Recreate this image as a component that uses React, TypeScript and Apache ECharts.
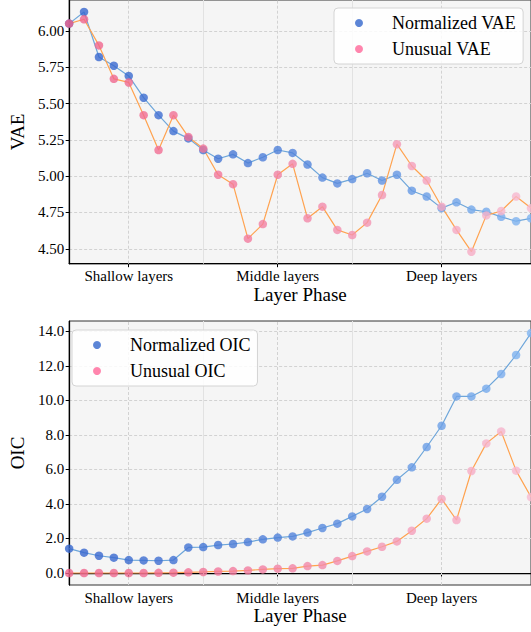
import React, { useEffect, useRef } from "react";
import * as echarts from "echarts";

// ---- data ----
const layers = ["0","1","2","3","4","5","6","7","8","9","10","11","12","13","14","15","16","17","18","19","20","21","22","23","24","25","26","27","28","29","30","31"];
const phaseTickIndex = [4, 14, 25];
const phaseLabels = ["Shallow layers", "Middle layers", "Deep layers"];
const minorGridIndex = [9, 19];

const vaeTicks = [4.5, 4.75, 5.0, 5.25, 5.5, 5.75, 6.0];
const oicTicks = [0, 2, 4, 6, 8, 10, 12, 14];

const vaeNormalized = [6.05, 6.13, 5.82, 5.76, 5.69, 5.54, 5.42, 5.31, 5.26, 5.18, 5.12, 5.15, 5.09, 5.13, 5.18, 5.16, 5.08, 4.99, 4.95, 4.98, 5.02, 4.97, 5.01, 4.90, 4.86, 4.78, 4.82, 4.77, 4.755, 4.72, 4.69, 4.71];
const vaeUnusual = [6.05, 6.08, 5.90, 5.67, 5.645, 5.42, 5.18, 5.42, 5.27, 5.19, 5.01, 4.945, 4.57, 4.67, 5.01, 5.085, 4.71, 4.79, 4.63, 4.595, 4.68, 4.87, 5.22, 5.07, 4.97, 4.79, 4.63, 4.48, 4.73, 4.76, 4.86, 4.78];

const oicNormalized = [1.41, 1.18, 1.0, 0.89, 0.75, 0.73, 0.71, 0.75, 1.48, 1.50, 1.62, 1.68, 1.79, 1.95, 2.05, 2.12, 2.34, 2.61, 2.86, 3.28, 3.71, 4.42, 5.40, 6.12, 7.30, 8.53, 10.23, 10.23, 10.68, 11.53, 12.63, 13.9];
const oicUnusual = [0, 0, 0, 0, 0, 0, 0.01, 0.02, 0.04, 0.06, 0.09, 0.11, 0.15, 0.21, 0.25, 0.27, 0.40, 0.46, 0.70, 0.98, 1.25, 1.52, 1.83, 2.45, 3.15, 4.29, 3.07, 5.91, 7.51, 8.20, 5.93, 4.4];

// ---- style ----
const FONT = "'Liberation Serif', 'Times New Roman', serif";
const BLUE_START = [54, 102, 206];
const BLUE_END = [128, 180, 240];
const PINK_START = [240, 100, 140];
const PINK_END = [247, 188, 210];

function mix(a: number[], b: number[], t: number) {
  const c = a.map((v, k) => Math.round(v + (b[k] - v) * t));
  return `rgb(${c[0]},${c[1]},${c[2]})`;
}

function pointData(vals: number[], start: number[], end: number[]) {
  return vals.map((v, i) => ({
    value: [i, v],
    itemStyle: { color: mix(start, end, Math.pow(i / (vals.length - 1), 1.35)) },
  }));
}

function buildOption() {
  const gridCommon = {
    left: 62,
    right: -2.5,
    show: true,
    backgroundColor: "#f5f5f5",
    borderColor: "#333",
    borderWidth: 1,
    containLabel: false,
  };
  const grids = [
    { ...gridCommon, top: -1, bottom: 368.3 },
    { ...gridCommon, top: 321, bottom: 47 },
  ];

  const dashed = { color: "#d2d2d2", width: 1, type: [3, 2] as any };

  const mainX = (g: number) => ({
    type: "category",
    gridIndex: g,
    data: layers,
    boundaryGap: false,
    position: "bottom",
    name: "Layer Phase",
    nameLocation: "middle",
    nameGap: 19,
    nameTextStyle: { fontFamily: FONT, fontSize: 19, color: "#000" },
    axisLine: { show: true, lineStyle: { color: "#000", width: 1.25 } },
    axisTick: {
      show: true,
      interval: (i: number) => phaseTickIndex.includes(i),
      length: 3.5,
      lineStyle: { color: "#000", width: 1 },
    },
    axisLabel: {
      interval: (i: number) => phaseTickIndex.includes(i),
      formatter: (_v: string, i: number) => phaseLabels[phaseTickIndex.indexOf(i)] ?? "",
      fontFamily: FONT,
      fontSize: 15,
      color: "#000",
      margin: 5,
    },
    splitLine: { show: false },
  });

  const yAx = (g: number, name: string, min: number, max: number, ticks: number[], digits: number) => ({
    type: "value",
    gridIndex: g,
    min,
    max,
    name,
    nameLocation: "middle",
    nameGap: 37,
    nameTextStyle: { fontFamily: FONT, fontSize: 19, color: "#000" },
    axisLine: { show: true, lineStyle: { color: "#000", width: 1.25 } },
    axisTick: {
      show: true,
      customValues: ticks,
      length: 3.5,
      lineStyle: { color: "#000", width: 1 },
    },
    axisLabel: {
      customValues: ticks,
      formatter: (v: number) => v.toFixed(digits),
      fontFamily: FONT,
      fontSize: 15,
      color: "#000",
      margin: 5,
    },
    splitLine: { show: true, lineStyle: dashed },
  });

  const vGridLines = () => ({
    silent: true,
    symbol: ["none", "none"],
    label: { show: false },
    z: 1,
    animation: false,
    data: [
      ...phaseTickIndex.map((i) => ({ xAxis: layers[i], lineStyle: dashed })),
      ...minorGridIndex.map((i) => ({ xAxis: layers[i], lineStyle: { color: "#e2e2e2", width: 1, type: "solid" } })),
    ],
  });

  const lineSeries = (name: string, xi: number, yi: number, data: number[], color: string, withGrid: boolean) => ({
    type: "line",
    name,
    xAxisIndex: xi,
    yAxisIndex: yi,
    data,
    symbol: "none",
    showSymbol: false,
    lineStyle: { color, width: 1.2 },
    itemStyle: { color },
    z: 2,
    ...(withGrid ? { markLine: vGridLines() } : {}),
  });

  const dotSeries = (name: string, xi: number, yi: number, vals: number[], legendColor: string, start: number[], end: number[], z: number) => ({
    type: "scatter",
    name,
    xAxisIndex: xi,
    yAxisIndex: yi,
    data: pointData(vals, start, end),
    symbol: "circle",
    symbolSize: 8.5,
    itemStyle: { color: legendColor },
    z,
  });

  const legendCommon = {
    orient: "vertical",
    icon: "circle",
    itemWidth: 8,
    itemHeight: 8,
    itemGap: 8,
    padding: [6, 7, 6, 21],
    backgroundColor: "rgba(255,255,255,0.85)",
    borderColor: "#d4d4d4",
    borderWidth: 1,
    borderRadius: 4,
    selectedMode: false,
    textStyle: { fontFamily: FONT, fontSize: 18, color: "#000", padding: [0, 0, 0, 24] },
    z: 10,
  };

  return {
    animation: false,
    backgroundColor: "#ffffff",
    grid: grids,
    xAxis: [mainX(0), mainX(1)],
    yAxis: [
      yAx(0, "VAE", 4.3975, 6.2125, vaeTicks, 2),
      yAx(1, "OIC", -0.695, 14.6, oicTicks, 1),
    ],
    legend: [
      { ...legendCommon, data: ["Normalized VAE", "Unusual VAE"], left: 334, top: 8 },
      { ...legendCommon, data: ["Normalized OIC", "Unusual OIC"], left: 72, top: 330 },
    ],
    series: [
      lineSeries("Normalized VAE trend", 0, 0, vaeNormalized, "#6ea6da", true),
      lineSeries("Unusual VAE trend", 0, 0, vaeUnusual, "#ffa24f", false),
      dotSeries("Normalized VAE", 0, 0, vaeNormalized, "#3366cc", BLUE_START, BLUE_END, 3),
      dotSeries("Unusual VAE", 0, 0, vaeUnusual, "#ff6699", PINK_START, PINK_END, 4),
      lineSeries("Normalized OIC trend", 1, 1, oicNormalized, "#6ea6da", true),
      lineSeries("Unusual OIC trend", 1, 1, oicUnusual, "#ffa24f", false),
      dotSeries("Normalized OIC", 1, 1, oicNormalized, "#3366cc", BLUE_START, BLUE_END, 3),
      dotSeries("Unusual OIC", 1, 1, oicUnusual, "#ff6699", PINK_START, PINK_END, 4),
    ],
  };
}

export default function App() {
  const ref = useRef<HTMLDivElement>(null);
  useEffect(() => {
    if (!ref.current) return;
    const chart = echarts.init(ref.current, undefined, { renderer: "svg" });
    chart.setOption(buildOption() as any);
    return () => chart.dispose();
  }, []);
  return (
    <div
      ref={ref}
      style={{ position: "absolute", left: 0, top: 0, width: 531, height: 632, background: "#fff" }}
    />
  );
}
